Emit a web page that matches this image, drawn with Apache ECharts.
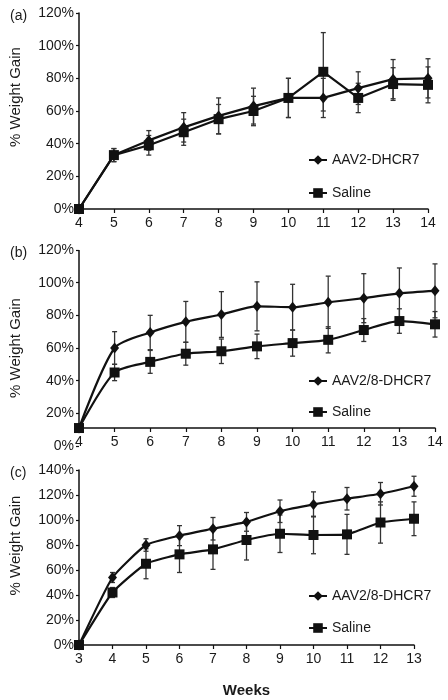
<!DOCTYPE html>
<html>
<head>
<meta charset="utf-8">
<script src="https://cdn.jsdelivr.net/npm/echarts@6/dist/echarts.min.js"></script>
<style>html,body{margin:0;padding:0;background:#fff}#c{width:448px;height:700px}</style>
</head>
<body>
<div id="c"></div>
<script>
// Panel (a)
const weeksA = [4,5,6,7,8,9,10,11,12,13,14];
const aavA = [0,33,42,50,57,63,68,68,74,79.5,80];
const aavAErr = [0,4,6,9,11,11,12,12,10,12,12];
const salA = [0,33,39,47,55,60,68,84,68,76.5,76];
const salAErr = [0,4,6,8,9,9,12,24,9,10,11];
// Panel (b)
const weeksB = [4,5,6,7,8,9,10,11,12,13,14];
const aavB = [11,60,69.5,76,80.5,85.5,85,88,90.5,93.5,95];
const aavBErr = [0,10,10.5,12.5,14,15,14,16,15,15.5,16.5];
const salB = [11,45,51.5,56.5,58,61,63,65,71,76.5,74.5];
const salBErr = [0,5,7,7,7.5,7.5,8,8,7,7.5,7.8];
// Panel (c)
const weeksC = [3,4,5,6,7,8,9,10,11,12,13];
const aavC = [0,54,80,87.5,93,98.5,107,112.5,117,121,127];
const aavCErr = [0,4,5,8,9,7.5,9,10,9,9,8];
const salC = [0,42,65,72.5,76.5,84,89,88,88.5,98,101];
const salCErr = [0,4,12,14.5,16,16,15,15,16,16.5,13.5];

const labelsA = ['AAV2-DHCR7','Saline'];
const labelsBC = ['AAV2/8-DHCR7','Saline'];

const FONT = 'Liberation Sans, Arial, sans-serif';
const TXT = '#1a1a1a';

function pairs(xs, ys){ return xs.map((x,i)=>[x, ys[i]]); }
function errData(xs, ys, es){ return xs.map((x,i)=>[x, ys[i]-es[i], ys[i]+es[i]]).filter((d,i)=>es[i]>0); }

function errSeries(idx, xs, ys, es){
  return {
    type:'custom', xAxisIndex:idx, yAxisIndex:idx, silent:true, z:1,
    data: errData(xs, ys, es),
    renderItem: function(params, api){
      const lo = api.coord([api.value(0), api.value(1)]);
      const hi = api.coord([api.value(0), api.value(2)]);
      const w = 2.5;
      const st = {stroke:'#333', lineWidth:1.3};
      return {type:'group', children:[
        {type:'line', shape:{x1:lo[0],y1:lo[1],x2:hi[0],y2:hi[1]}, style:st},
        {type:'line', shape:{x1:lo[0]-w,y1:lo[1],x2:lo[0]+w,y2:lo[1]}, style:st},
        {type:'line', shape:{x1:hi[0]-w,y1:hi[1],x2:hi[0]+w,y2:hi[1]}, style:st}
      ]};
    }
  };
}

function lineSeries(idx, name, xs, ys, symbol, size, smooth){
  return {
    type:'line', name:name, xAxisIndex:idx, yAxisIndex:idx, z:3,
    data: pairs(xs, ys), symbol:symbol, symbolSize:size, smooth:smooth,
    lineStyle:{color:'#111', width:2.2}, itemStyle:{color:'#111'}
  };
}

function xAxisCfg(idx, min, max, extra){
  return Object.assign({
    type:'value', gridIndex:idx, min:min, max:max, interval:1,
    axisLine:{show:true, onZero:false, lineStyle:{color:'#111', width:1.5}},
    axisTick:{show:true, length:4, lineStyle:{color:'#111', width:1.2}},
    axisLabel:{color:TXT, fontFamily:FONT, fontSize:14, margin:7},
    splitLine:{show:false}
  }, extra||{});
}
function yAxisCfg(idx, max, extra){
  return Object.assign({
    type:'value', gridIndex:idx, min:0, max:max, interval:20,
    name:'% Weight Gain', nameLocation:'middle', nameGap:56,
    nameTextStyle:{color:TXT, fontFamily:FONT, fontSize:15},
    axisLine:{show:true, lineStyle:{color:'#111', width:1.5}},
    axisTick:{show:true, length:3, lineStyle:{color:'#111', width:1.2}},
    axisLabel:{color:TXT, fontFamily:FONT, fontSize:14, margin:5, formatter:'{value}%'},
    splitLine:{show:false}
  }, extra||{});
}

const chart = echarts.init(document.getElementById('c'), null, {renderer:'canvas'});
const legendText = {fontFamily:FONT, fontSize:14, color:TXT};
const option = {
  animation:false,
  backgroundColor:'#fff',
  title:[
    {text:'(a)', left:5, top:4, textStyle:{fontFamily:FONT, fontSize:14, fontWeight:'normal', color:TXT}},
    {text:'(b)', left:5, top:241, textStyle:{fontFamily:FONT, fontSize:14, fontWeight:'normal', color:TXT}},
    {text:'(c)', left:5, top:461, textStyle:{fontFamily:FONT, fontSize:14, fontWeight:'normal', color:TXT}}
  ],
  grid:[
    {left:78, top:13, width:350, height:196},
    {left:77, top:250, width:358, height:196},
    {left:79, top:470, width:335, height:175}
  ],
  xAxis:[
    xAxisCfg(0, 4, 14),
    xAxisCfg(1, 4, 14, {offset:-18}),
    xAxisCfg(2, 3, 13, {name:'Weeks', nameLocation:'middle', nameGap:38,
      nameTextStyle:{color:TXT, fontFamily:FONT, fontSize:15, fontWeight:'bold'}})
  ],
  yAxis:[
    yAxisCfg(0, 120, {nameTextStyle:{color:TXT, fontFamily:FONT, fontSize:15, padding:[0,0,0,28]}}),
    yAxisCfg(1, 120, {axisLine:{show:false}}),
    yAxisCfg(2, 140, {nameTextStyle:{color:TXT, fontFamily:FONT, fontSize:15, padding:[0,0,0,24]}})
  ],
  legend:[
    {data:labelsA, orient:'vertical', left:303, top:148, itemWidth:18, itemHeight:12, itemGap:19, textStyle:legendText},
    {data:labelsBC, orient:'vertical', left:303, top:369, itemWidth:18, itemHeight:12, itemGap:17, textStyle:legendText},
    {data:labelsBC, orient:'vertical', left:303, top:584, itemWidth:18, itemHeight:12, itemGap:18, textStyle:legendText}
  ],
  series:[
    errSeries(0, weeksA, aavA, aavAErr),
    errSeries(0, weeksA, salA, salAErr),
    lineSeries(0, labelsA[0], weeksA, aavA, 'diamond', [9,11], false),
    lineSeries(0, labelsA[1], weeksA, salA, 'rect', 10, false),

    errSeries(1, weeksB, aavB, aavBErr),
    errSeries(1, weeksB, salB, salBErr),
    Object.assign(lineSeries(1, labelsBC[0], weeksB, aavB, 'diamond', [9,11], 0.25), {
      markLine:{silent:true, symbol:'none', animation:false, label:{show:false},
        lineStyle:{color:'#111', width:1.5, type:'solid'},
        data:[[{coord:[weeksB[0], aavB[0]]},{coord:[weeksB[0], 120]}]]}
    }),
    lineSeries(1, labelsBC[1], weeksB, salB, 'rect', 10, 0.25),

    errSeries(2, weeksC, aavC, aavCErr),
    errSeries(2, weeksC, salC, salCErr),
    lineSeries(2, labelsBC[0], weeksC, aavC, 'diamond', [9,11], 0.15),
    lineSeries(2, labelsBC[1], weeksC, salC, 'rect', 10, 0.15)
  ]
};
chart.setOption(option);
</script>
</body>
</html>
